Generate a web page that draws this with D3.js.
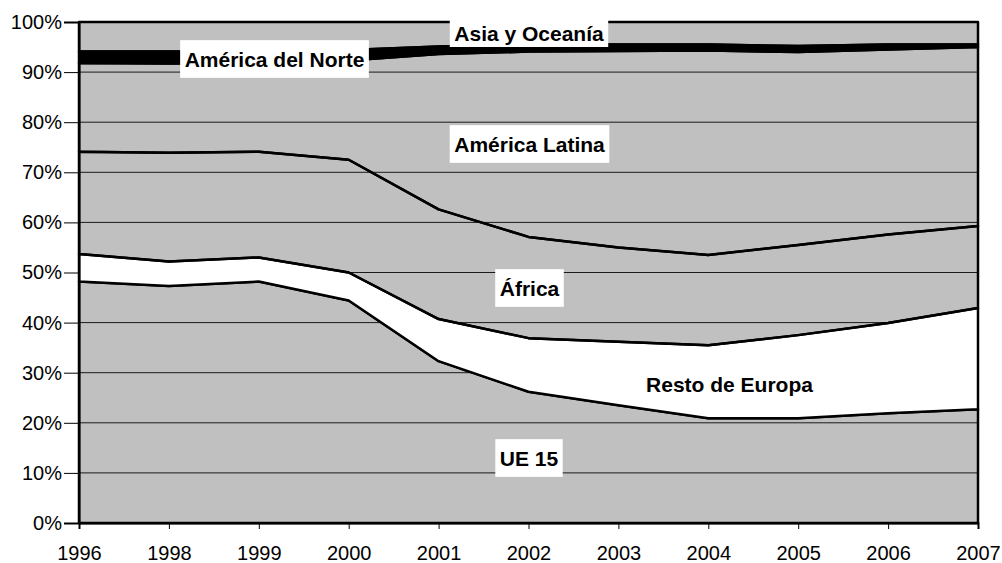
<!DOCTYPE html>
<html>
<head>
<meta charset="utf-8">
<script src="https://cdn.jsdelivr.net/npm/d3@7/dist/d3.min.js"></script>
<style>
  html, body { margin: 0; padding: 0; background: #fff; }
  svg { display: block; }
</style>
</head>
<body>
<svg id="chart" width="1002" height="563"></svg>
<script>
// ---- data (percent shares per year) ----
const years = ["1996","1998","1999","2000","2001","2002","2003","2004","2005","2006","2007"];
const seriesNames = ["UE 15","Resto de Europa","África","América Latina","América del Norte","Asia y Oceanía"];
const ue15          = [48.2, 47.3, 48.2, 44.4, 32.3, 26.2, 23.5, 20.9, 20.9, 21.9, 22.7];
const restoEuropa   = [ 5.5,  4.9,  4.8,  5.6,  8.4, 10.7, 12.7, 14.6, 16.6, 18.0, 20.2];
const africa        = [20.4, 21.7, 21.1, 22.5, 21.9, 20.2, 18.8, 18.0, 18.0, 17.7, 16.4];
const americaLatina = [17.7, 17.8, 17.7, 19.8, 31.0, 37.0, 39.2, 40.8, 38.5, 36.9, 35.7];
const americaNorte  = [ 2.3,  2.4,  2.3,  2.1,  1.5,  1.4,  1.3,  1.2,  1.2,  1.0,  0.5];
const asiaOceania   = [ 5.9,  5.9,  5.9,  5.6,  4.9,  4.5,  4.5,  4.5,  4.8,  4.5,  4.5];
const yTicks = [0, 0.1, 0.2, 0.3, 0.4, 0.5, 0.6, 0.7, 0.8, 0.9, 1.0];

const seriesValues = [ue15, restoEuropa, africa, americaLatina, americaNorte, asiaOceania];
const table = years.map((yr, i) => {
  const row = { year: yr };
  seriesNames.forEach((n, k) => row[n] = seriesValues[k][i]);
  return row;
});

// ---- layout ----
const L = 79, R = 978, T = 22, B = 523;
const svg = d3.select("#chart");
const x = d3.scalePoint().domain(years).range([L, R]);
const y = d3.scaleLinear().domain([0, 1]).range([B, T]);

const stack = d3.stack().keys(seriesNames).offset(d3.stackOffsetExpand);
const layers = stack(table);

const fills = {
  "UE 15": "none",
  "Resto de Europa": "#ffffff",
  "África": "none",
  "América Latina": "none",
  "América del Norte": "#000000",
  "Asia y Oceanía": "none"
};

// plot background
svg.append("rect").attr("x", L).attr("y", T).attr("width", R - L).attr("height", B - T)
  .attr("fill", "#c0c0c0");

// gridlines
svg.append("g").selectAll("line").data(yTicks.filter(t => t > 0 && t < 1)).join("line")
  .attr("x1", L).attr("x2", R)
  .attr("y1", d => y(d)).attr("y2", d => y(d))
  .attr("stroke", "#1a1a1a").attr("stroke-width", 1);

// areas
const area = d3.area()
  .x(d => x(d.data.year))
  .y0(d => y(d[0]))
  .y1(d => y(d[1]));

svg.append("g").selectAll("path").data(layers).join("path")
  .attr("d", area)
  .attr("fill", d => fills[d.key])
  .attr("stroke", "#000")
  .attr("stroke-width", 2.5)
  .attr("stroke-linejoin", "round");

// plot border
svg.append("rect").attr("x", L).attr("y", T).attr("width", R - L).attr("height", B - T)
  .attr("fill", "none").attr("stroke", "#000").attr("stroke-width", 2);

// y axis
const yAxis = d3.axisLeft(y).tickValues(yTicks).tickFormat(d3.format(".0%"))
  .tickSize(15).tickPadding(2);
const gy = svg.append("g").attr("transform", `translate(${L},0)`).call(yAxis);
gy.select(".domain").attr("stroke", "#000").attr("stroke-width", 2);
gy.selectAll(".tick line").attr("stroke", "#000").attr("stroke-width", 1);
gy.selectAll(".tick text").attr("font-family", "Liberation Sans, Arial, sans-serif")
  .attr("font-size", 20).attr("fill", "#000");

// x axis
const xAxis = d3.axisBottom(x).tickSize(6).tickPadding(17);
const gx = svg.append("g").attr("transform", `translate(0,${B})`).call(xAxis);
gx.select(".domain").attr("stroke", "#000").attr("stroke-width", 2);
gx.selectAll(".tick line").attr("stroke", "#000").attr("stroke-width", 1);
gx.selectAll(".tick text").attr("font-family", "Liberation Sans, Arial, sans-serif")
  .attr("font-size", 20).attr("fill", "#000");

// labels with white boxes
const labelNames = ["Asia y Oceanía","América del Norte","América Latina","África","Resto de Europa","UE 15"];
const labelCx = [529, 274.5, 529.5, 529.5, 729.5, 529];
const labelCy = [33, 59, 144, 288, 384, 458];
const lg = svg.append("g");
labelNames.forEach((name, i) => {
  const g = lg.append("g");
  const rect = g.append("rect").attr("fill", "#fff");
  const t = g.append("text")
    .attr("x", labelCx[i]).attr("y", labelCy[i])
    .attr("text-anchor", "middle").attr("dominant-baseline", "central")
    .attr("font-family", "Liberation Sans, Arial, sans-serif")
    .attr("font-weight", "bold").attr("font-size", 21).attr("fill", "#000")
    .text(name);
  const w = t.node().getComputedTextLength();
  const h = i === 0 ? 28 : 37.7;
  rect.attr("x", labelCx[i] - w / 2 - 4.5).attr("width", w + 9)
      .attr("y", labelCy[i] - h / 2).attr("height", h);
});
</script>
</body>
</html>
